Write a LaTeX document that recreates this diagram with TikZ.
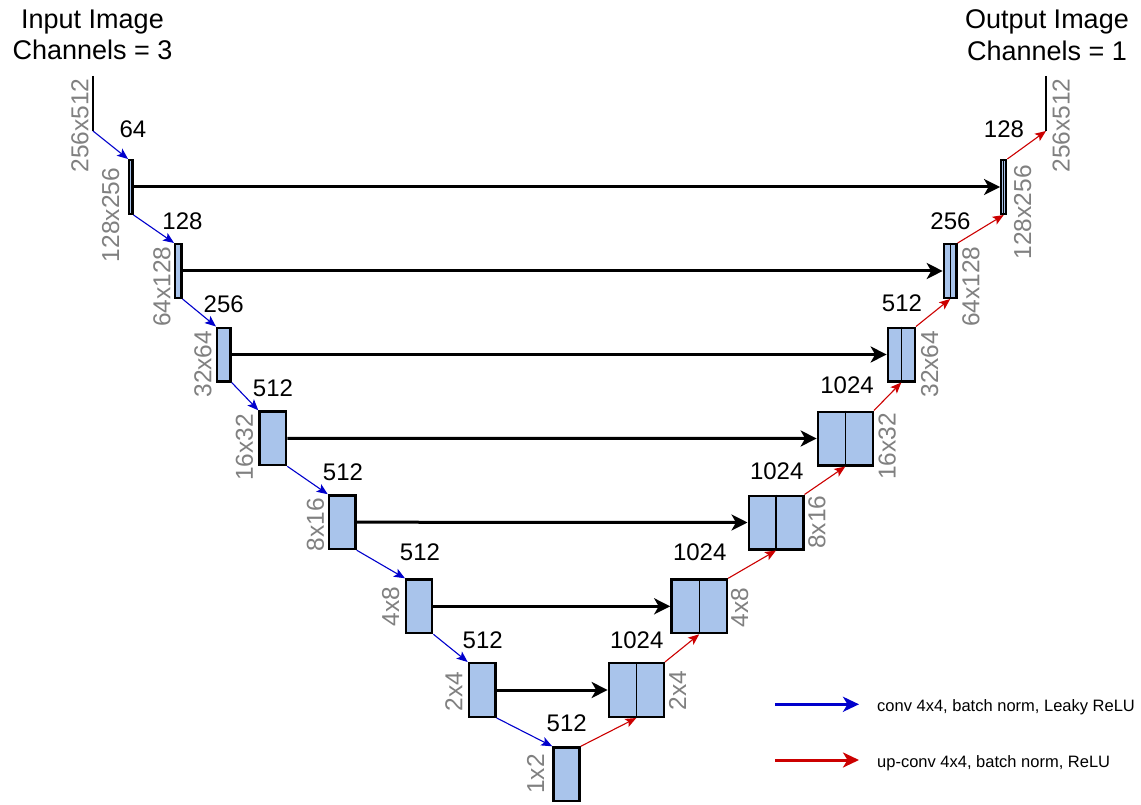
\documentclass[tikz,border=0pt]{standalone}
\usepackage{fontspec}
\setmainfont{Liberation Sans}
\usetikzlibrary{arrows.meta}
\definecolor{boxfill}{HTML}{A9C4EB}
\definecolor{convblue}{HTML}{0000CC}
\definecolor{upred}{HTML}{CC0000}
\definecolor{dimgray}{HTML}{808080}
\begin{document}
\begin{tikzpicture}[x=1pt,y=-1pt,
  fmap/.style={draw=black, line width=2.3pt, fill=boxfill, inner sep=0pt, minimum height=53.7pt},
  divider/.style={line width=1.3pt},
  conv/.style={draw=convblue, line width=1.1pt, -{Stealth[length=11pt,width=9pt,inset=2.5pt]}},
  upconv/.style={draw=upred, line width=1.1pt, -{Stealth[length=11pt,width=9pt,inset=2.5pt]}},
  skip/.style={line width=3pt, -{Stealth[length=16pt,width=16pt,inset=4.5pt]}},
  legconv/.style={draw=convblue, line width=3pt, -{Stealth[length=16pt,width=15pt,inset=4.5pt]}},
  legup/.style={draw=upred, line width=3pt, -{Stealth[length=16pt,width=15pt,inset=4.5pt]}},
  imgline/.style={line width=2.7pt},
  chan/.style={font=\fontsize{24}{24}\selectfont, inner sep=0pt, anchor=base},
  dimlab/.style={font=\fontsize{24.5}{24.5}\selectfont, text=dimgray, rotate=90, inner sep=0pt},
  title/.style={font=\fontsize{27}{31.7}\selectfont, align=center, inner sep=0pt, anchor=north},
  legtext/.style={font=\fontsize{16.5}{16.5}\selectfont, inner sep=0pt, anchor=base west}
]
\useasboundingbox (0,0) rectangle (1141,805);

% titles
\node[title] (tin) at (92.5,9.5) {Input Image\\Channels = 3};
\node[title] (tout) at (1047,9.5) {Output Image\\Channels = 1};

% input / output image lines
\coordinate (inTop) at (93,76);
\coordinate (inBot) at (93,131);
\coordinate (outTop) at (1046,76);
\coordinate (outBot) at (1046,131);
\draw[imgline] (inTop) -- (inBot);
\draw[imgline] (outTop) -- (outBot);

% encoder boxes
\node[fmap, minimum width=3.2pt] (E1) at (130.8,187) {};
\node[fmap, minimum width=6.2pt] (E2) at (178.3,271) {};
\node[fmap, minimum width=13.4pt] (E3) at (223.8,354.5) {};
\node[fmap, minimum width=26.7pt] (E4) at (272.8,438.3) {};
\node[fmap, minimum width=26.7pt] (E5) at (342.2,522.2) {};
\node[fmap, minimum width=26.2pt] (E6) at (419.2,606.3) {};
\node[fmap, minimum width=26.7pt] (E7) at (482.2,690) {};
\node[fmap, minimum width=26.2pt] (E8) at (566.5,774.3) {};

% decoder boxes
\node[fmap, minimum width=5pt] (D1) at (1003.7,187) {};
\node[fmap, minimum width=12.7pt] (D2) at (950.2,271) {};
\node[fmap, minimum width=27pt] (D3) at (901.3,354.5) {};
\node[fmap, minimum width=55pt] (D4) at (845.3,438.5) {};
\node[fmap, minimum width=54.7pt] (D5) at (776,522.5) {};
\node[fmap, minimum width=55.7pt] (D6) at (699.2,606.3) {};
\node[fmap, minimum width=55pt] (D7) at (636.3,690) {};
\foreach \d in {D1,D2,D3,D4,D5,D6,D7}{
  \draw[divider] (\d.north) -- (\d.south);
}

% channel counts
\node[chan] (c1) at (133,138) {64};
\node[chan] (c2) at (182.5,230) {128};
\node[chan] (c3) at (223.7,312.7) {256};
\node[chan] (c4) at (273,396.7) {512};
\node[chan] (c5) at (343,480) {512};
\node[chan] (c6) at (420,560.7) {512};
\node[chan] (c7) at (482.7,648.3) {512};
\node[chan] (c8) at (566.7,731.7) {512};
\node[chan] (c9) at (636.7,648.3) {1024};
\node[chan] (c10) at (699.7,560.7) {1024};
\node[chan] (c11) at (776.7,479.3) {1024};
\node[chan] (c12) at (847,393.3) {1024};
\node[chan] (c13) at (902,311.7) {512};
\node[chan] (c14) at (950.5,230) {256};
\node[chan] (c15) at (1004,137.5) {128};

% size labels
\node[dimlab] (s0) at (80,125.5) {256x512};
\node[dimlab] (s1) at (110.8,215) {128x256};
\node[dimlab] (s2) at (162,286.7) {64x128};
\node[dimlab] (s3) at (203,364.2) {32x64};
\node[dimlab] (s4) at (244.5,447.5) {16x32};
\node[dimlab] (s5) at (315.5,524.5) {8x16};
\node[dimlab] (s6) at (390.8,606.7) {4x8};
\node[dimlab] (s7) at (453.8,691.7) {2x4};
\node[dimlab] (s8) at (535.5,774) {1x2};
\node[dimlab] (s9) at (677.5,690.8) {2x4};
\node[dimlab] (s10) at (739.7,607.8) {4x8};
\node[dimlab] (s11) at (817,522.3) {8x16};
\node[dimlab] (s12) at (887.3,446.5) {16x32};
\node[dimlab] (s13) at (929.7,364.2) {32x64};
\node[dimlab] (s14) at (971,286.7) {64x128};
\node[dimlab] (s15) at (1022.8,212.3) {128x256};
\node[dimlab] (s16) at (1061.2,125.5) {256x512};

% encoder (conv) arrows
\draw[conv] (inBot) -- (E1.north west);
\draw[conv] (E1.south east) -- (E2.north west);
\draw[conv] (E2.south east) -- (E3.north west);
\draw[conv] (E3.south east) -- (E4.north west);
\draw[conv] (E4.south east) -- (E5.north west);
\draw[conv] (E5.south east) -- (E6.north west);
\draw[conv] (E6.south east) -- (E7.north west);
\draw[conv] (E7.south east) -- (E8.north west);

% decoder (up-conv) arrows
\draw[upconv] (E8.north east) -- (D7.south);
\draw[upconv] (D7.north east) -- (D6.south);
\draw[upconv] (D6.north east) -- (D5.south);
\draw[upconv] (D5.north east) -- (D4.south);
\draw[upconv] (D4.north east) -- (D3.south);
\draw[upconv] (D3.north east) -- (D2.south);
\draw[upconv] (D2.north east) -- (D1.south);
\draw[upconv] (D1.north east) -- (outBot);

% skip connections
\draw[skip] (E1.east) -- (D1.west);
\draw[skip] (E2.east) -- (D2.west);
\draw[skip] (E3.east) -- (D3.west);
\draw[skip] (E4.east) -- (D4.west);
\draw[skip] (E5.east) -- (D5.west);
\draw[skip] (E6.east) -- (D6.west);
\draw[skip] (E7.east) -- (D7.west);

% legend
\coordinate (lb1) at (775,704.3);
\coordinate (lb2) at (859,704.3);
\coordinate (lr1) at (775,760);
\coordinate (lr2) at (859,760);
\draw[legconv] (lb1) -- (lb2);
\draw[legup] (lr1) -- (lr2);
\node[legtext] (lt1) at (877,711.5) {conv 4x4, batch norm, Leaky ReLU};
\node[legtext] (lt2) at (877,767.3) {up-conv 4x4, batch norm, ReLU};
\end{tikzpicture}
\end{document}
